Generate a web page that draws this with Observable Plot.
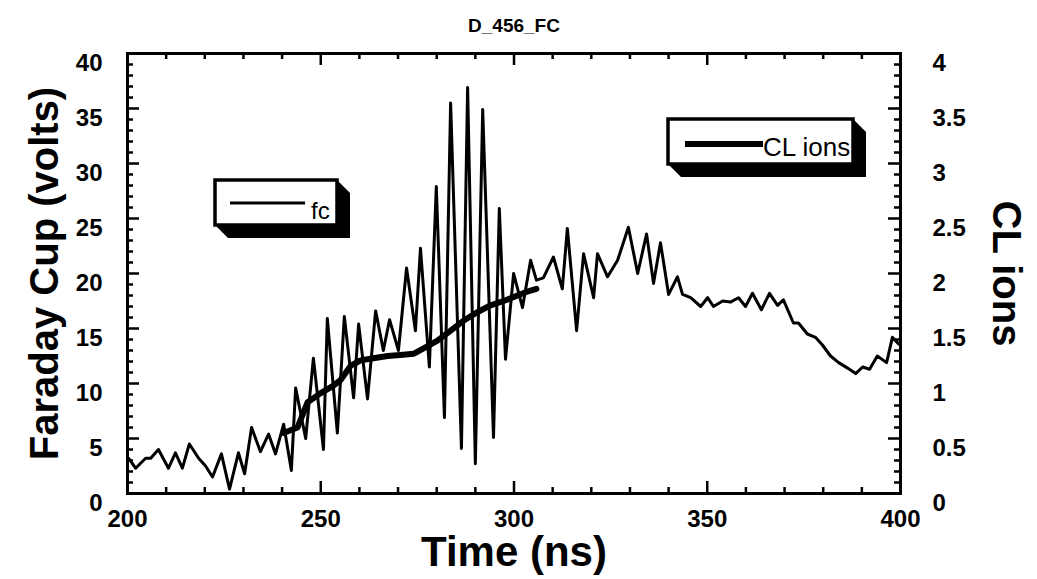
<!DOCTYPE html>
<html><head><meta charset="utf-8">
<script src="https://cdn.jsdelivr.net/npm/d3@7"></script>
<script src="https://cdn.jsdelivr.net/npm/@observablehq/plot@0.6"></script>
<style>
body{margin:0;background:#fff;}
#chart{position:absolute;left:0;top:0;}
</style></head><body><div id="chart"></div>
<script>
// Faraday cup signal (fc), left axis, volts
const fcTime = [200.3,202.1,204.7,206.0,208.0,210.6,212.4,214.2,216.0,218.4,220.2,222.0,224.3,226.4,228.7,230.3,232.1,234.4,236.5,238.3,240.4,242.4,243.5,246.1,248.1,250.7,251.7,254.3,256.1,258.5,259.8,262.1,264.2,266.2,267.8,270.1,272.2,274.5,275.8,278.1,279.9,282.0,283.6,286.4,288.0,290.0,291.9,294.7,296.2,297.8,299.9,302.2,304.3,305.8,307.6,310.2,312.5,313.8,316.2,318.0,320.6,321.6,324.2,326.8,329.6,332.0,334.3,336.1,337.9,340.0,342.3,343.6,345.7,348.3,350.1,351.6,354.0,356.0,358.1,359.9,361.7,364.0,366.1,368.2,369.7,372.3,373.6,375.9,378.0,379.8,381.9,384.0,386.3,388.4,390.2,392.0,394.0,396.4,397.9,399.5];
const fcVolts = [3.2,2.3,3.2,3.2,4.0,2.3,3.7,2.3,4.5,3.2,2.5,1.5,3.6,0.4,3.7,1.8,6.0,3.8,5.4,3.6,6.3,2.1,9.6,5.0,12.3,4.0,15.9,5.5,16.1,8.7,15.4,8.6,16.6,13.0,15.8,13.0,20.5,14.8,22.3,11.5,27.9,6.9,35.5,4.1,36.9,2.7,34.9,5.1,25.9,12.2,20.0,16.9,21.2,19.4,19.6,21.5,18.6,24.1,14.8,21.8,17.8,21.8,19.7,21.2,24.2,20.0,23.6,19.1,22.8,18.1,19.7,18.1,17.8,17.0,17.8,17.0,17.5,17.4,17.8,17.0,18.2,16.7,18.2,17.1,17.6,15.5,15.5,14.5,14.2,13.5,12.5,11.9,11.4,10.9,11.5,11.3,12.5,11.9,14.2,13.6];
// CL ions, right axis
const clTime = [240.4,244.0,246.6,249.9,253.3,255.1,257.7,260.3,263.6,267.3,270.6,274.0,276.6,280.2,283.6,286.9,290.6,293.9,297.3,300.9,303.0,305.8];
const clIons = [0.55,0.60,0.83,0.91,0.98,1.03,1.16,1.21,1.23,1.25,1.26,1.27,1.32,1.39,1.48,1.57,1.65,1.71,1.75,1.80,1.83,1.86];
// ticks
const xMajor = [200,250,300,350,400];
const xMinor = [210,220,230,240,260,270,280,290,310,320,330,340,360,370,380,390];
const yLeftMajor = [0,5,10,15,20,25,30,35,40];
const yRightMajor = [0,0.5,1,1.5,2,2.5,3,3.5,4];
const yMinor = [1,2,3,4,6,7,8,9,11,12,13,14,16,17,18,19,21,22,23,24,26,27,28,29,31,32,33,34,36,37,38,39];

const fcData = fcTime.map((t,i)=>({t, v: fcVolts[i]}));
const clData = clTime.map((t,i)=>({t, v: clIons[i]}));

const W=1037,H=579, ml=127, mr=137, mt=53, mb=86;
const pw=W-ml-mr, ph=H-mt-mb;
const F="'Liberation Sans', Arial, Helvetica, sans-serif";
const bold={fontWeight:"bold", fill:"black"};

const chart = Plot.plot({
  width:W, height:H, marginLeft:ml, marginRight:mr, marginTop:mt, marginBottom:mb,
  x:{domain:[200,400], axis:null},
  y:{domain:[0,40], axis:null},
  style:{fontFamily:F, background:"white", overflow:"visible"},
  marks:[
    Plot.line(fcData,{x:"t", y:"v", stroke:"black", strokeWidth:3, strokeLinejoin:"round"}),
    Plot.line(clData,{x:"t", y:d=>d.v*10, stroke:"black", strokeWidth:6, strokeLinejoin:"round"}),
    Plot.frame({stroke:"black", strokeWidth:3}),
    // inward ticks
    Plot.ruleX(xMajor,{x:d=>d, insetTop:ph-12, strokeWidth:2.5}),
    Plot.ruleX(xMajor,{x:d=>d, insetBottom:ph-12, strokeWidth:2.5}),
    Plot.ruleX(xMinor,{x:d=>d, insetTop:ph-6, strokeWidth:2.5}),
    Plot.ruleX(xMinor,{x:d=>d, insetBottom:ph-6, strokeWidth:2.5}),
    Plot.ruleY(yLeftMajor,{y:d=>d, insetRight:pw-12, strokeWidth:2.5}),
    Plot.ruleY(yLeftMajor,{y:d=>d, insetLeft:pw-12, strokeWidth:2.5}),
    Plot.ruleY(yMinor,{y:d=>d, insetRight:pw-6, strokeWidth:2.5}),
    Plot.ruleY(yMinor,{y:d=>d, insetLeft:pw-6, strokeWidth:2.5}),
    // tick labels
    Plot.text(xMajor,{x:d=>d, text:d=>String(d), frameAnchor:"bottom", dy:33, fontSize:24, ...bold}),
    Plot.text(yLeftMajor,{y:d=>d, text:d=>String(d), frameAnchor:"left", textAnchor:"end", dx:-25, dy:10, fontSize:24, ...bold}),
    Plot.text(yRightMajor,{y:d=>d*10, text:d=>String(d), frameAnchor:"right", textAnchor:"start", dx:32, dy:10, fontSize:24, ...bold}),
    // titles
    Plot.text(["D_456_FC"],{frameAnchor:"top", dy:-35, fontSize:19, ...bold}),
    Plot.text(["Time (ns)"],{frameAnchor:"bottom", dy:72, fontSize:42, ...bold}),
    Plot.text(["Faraday Cup (volts)"],{frameAnchor:"left", textAnchor:"middle", dx:-82, rotate:-90, fontSize:40, ...bold}),
    Plot.text(["CL ions"],{frameAnchor:"right", textAnchor:"middle", dx:105, rotate:90, fontSize:40, ...bold})
  ]
});
document.getElementById("chart").appendChild(chart);

// legend boxes (3D-shadowed)
const svg = d3.select(chart.tagName.toLowerCase()==="svg" ? chart : chart.querySelector("svg"));
function legendBox(x0,y0,x1,y1,off,lineW,lineX0,lineX1,lineY,label,tx,ty,fs){
  const g = svg.append("g");
  g.append("polygon")
    .attr("points",[[x1,y0],[x1+off,y0+off],[x1+off,y1+off],[x0+off,y1+off],[x0,y1]].map(p=>p.join(",")).join(" "))
    .attr("fill","black");
  g.append("rect").attr("x",x0).attr("y",y0).attr("width",x1-x0).attr("height",y1-y0)
    .attr("fill","white").attr("stroke","black").attr("stroke-width",3.5);
  g.append("line").attr("x1",lineX0).attr("x2",lineX1).attr("y1",lineY).attr("y2",lineY)
    .attr("stroke","black").attr("stroke-width",lineW);
  g.append("text").attr("x",tx).attr("y",ty).attr("font-size",fs).attr("font-family",F)
    .attr("text-anchor","start").attr("fill","black").text(label);
}
legendBox(215,180,337,225,13,3,230,305,203,"fc",311,219,24);
legendBox(668,119,853,164,13,6,685,763,144,"CL ions",763,156,26);
</script></body></html>
